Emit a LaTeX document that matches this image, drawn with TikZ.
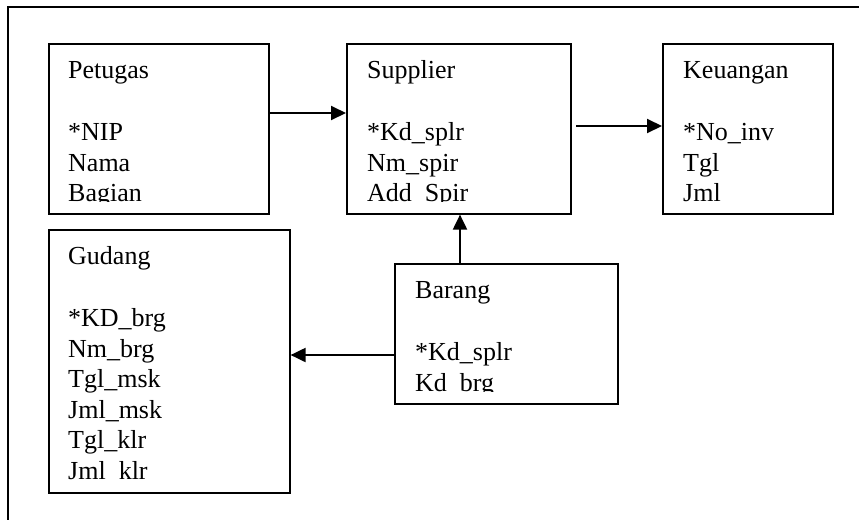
\documentclass[tikz,border=0pt]{standalone}
\usepackage{fontspec}
\setmainfont{Liberation Serif}
\usetikzlibrary{arrows.meta,calc}
\tikzset{
  ent/.style={draw, line width=1.6pt, rectangle, inner sep=0pt, anchor=north west},
  txt/.style={anchor=north west, inner sep=0pt, align=left, font=\fontsize{26}{30.5}\selectfont},
  arr/.style={line width=2pt, -{Triangle[length=15pt,width=14pt]}},
  frame/.style={line width=1.6pt}
}
\newcommand{\strt}{\rule{0pt}{20pt}}
\begin{document}
\begin{tikzpicture}[x=1pt,y=1pt]
\useasboundingbox (0,0) rectangle (859,-520);
\draw[frame] (859,-7) -- (8,-7) -- (8,-520);

\node[ent, minimum width=220pt, minimum height=170pt] (pet) at (48,-43) {};
\node[ent, minimum width=224pt, minimum height=170pt] (sup) at (346,-43) {};
\node[ent, minimum width=170pt, minimum height=170pt] (keu) at (662,-43) {};
\node[ent, minimum width=241pt, minimum height=263pt] (gud) at (48,-229) {};
\node[ent, minimum width=223pt, minimum height=140pt] (bar) at (394,-263) {};

\begin{scope}
\clip (pet.north west) rectangle ([yshift=13pt]pet.south east);
\node[txt] (pett) at ([xshift=20pt,yshift=-15pt]pet.north west) {\strt Petugas\\[32pt]*NIP\\Nama\\Bagian};
\end{scope}
\begin{scope}
\clip (sup.north west) rectangle ([yshift=13pt]sup.south east);
\node[txt] (supt) at ([xshift=21pt,yshift=-15pt]sup.north west) {\strt Supplier\\[32pt]*Kd\_splr\\Nm\_spir\\Add\_Spir};
\end{scope}
\begin{scope}
\clip (keu.north west) rectangle ([yshift=13pt]keu.south east);
\node[txt] (keut) at ([xshift=21pt,yshift=-15pt]keu.north west) {\strt Keuangan\\[32pt]*No\_inv\\Tgl\\Jml};
\end{scope}
\begin{scope}
\clip (gud.north west) rectangle ([yshift=13pt]gud.south east);
\node[txt] (gudt) at ([xshift=20pt,yshift=-15pt]gud.north west) {\strt Gudang\\[32pt]*KD\_brg\\Nm\_brg\\Tgl\_msk\\Jml\_msk\\Tgl\_klr\\Jml\_klr};
\end{scope}
\begin{scope}
\clip (bar.north west) rectangle ([yshift=13pt]bar.south east);
\node[txt] (bart) at ([xshift=21pt,yshift=-15pt]bar.north west) {\strt Barang\\[32pt]*Kd\_splr\\Kd\_brg};
\end{scope}

\coordinate (r1) at (0,-113);
\coordinate (a2) at (576,-126);
\coordinate (c3) at (460,0);
\coordinate (r4) at (0,-355);

\draw[arr] (pet.east |- r1) -- (sup.west |- r1);
\draw[arr] (a2) -- (a2 -| keu.west);
\draw[arr] (bar.north -| c3) -- (sup.south -| c3);
\draw[arr] (bar.west |- r4) -- (gud.east |- r4);
\end{tikzpicture}
\end{document}
